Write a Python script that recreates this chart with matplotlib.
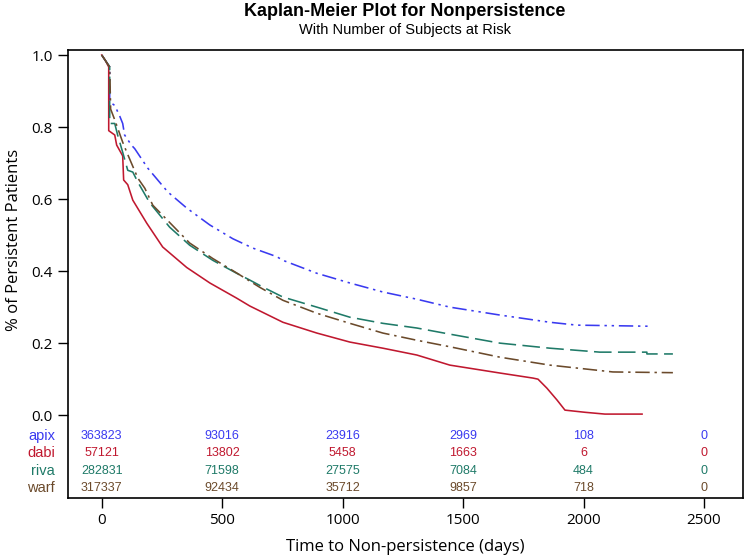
import matplotlib.pyplot as plt
from matplotlib.transforms import blended_transform_factory

# survival curves (days, proportion persistent)
apix_t = [0, 15, 33, 33, 54, 75, 87, 95, 123, 137, 191, 274, 353, 449, 544, 627, 727, 752, 893, 1030, 1167, 1308, 1445, 1653, 1860, 1972, 2267]
apix_s = [1.0, 0.985, 0.967, 0.87, 0.86, 0.83, 0.81, 0.778, 0.75, 0.74, 0.686, 0.62, 0.575, 0.528, 0.49, 0.464, 0.44, 0.43, 0.394, 0.367, 0.342, 0.322, 0.30, 0.278, 0.258, 0.25, 0.247]

dabi_t = [0, 15, 29, 29, 54, 62, 87, 91, 108, 129, 187, 253, 353, 449, 560, 615, 752, 893, 1030, 1167, 1308, 1445, 1653, 1790, 1811, 1848, 1890, 1923, 2006, 2089, 2243]
dabi_s = [1.0, 0.985, 0.967, 0.79, 0.778, 0.75, 0.72, 0.653, 0.64, 0.597, 0.533, 0.467, 0.41, 0.367, 0.325, 0.303, 0.258, 0.228, 0.203, 0.186, 0.167, 0.139, 0.117, 0.103, 0.10, 0.075, 0.042, 0.014, 0.008, 0.003, 0.003]

riva_t = [0, 15, 33, 33, 54, 66, 87, 108, 129, 150, 199, 282, 365, 461, 560, 615, 668, 752, 893, 1030, 1167, 1308, 1445, 1653, 1860, 2068, 2263, 2263, 2371]
riva_s = [1.0, 0.985, 0.967, 0.81, 0.81, 0.778, 0.73, 0.68, 0.675, 0.647, 0.59, 0.522, 0.472, 0.43, 0.394, 0.375, 0.356, 0.328, 0.30, 0.272, 0.255, 0.242, 0.225, 0.20, 0.186, 0.175, 0.175, 0.17, 0.17]

warf_t = [0, 15, 33, 37, 54, 87, 104, 150, 179, 212, 365, 461, 560, 656, 752, 893, 1030, 1167, 1308, 1445, 1653, 1860, 2122, 2371]
warf_s = [1.0, 0.985, 0.967, 0.85, 0.82, 0.758, 0.73, 0.658, 0.63, 0.583, 0.478, 0.435, 0.395, 0.355, 0.319, 0.283, 0.255, 0.228, 0.208, 0.19, 0.161, 0.139, 0.12, 0.118]

# number at risk table
risk_times = [0, 500, 1000, 1500, 2000, 2500]
apix_risk = [363823, 93016, 23916, 2969, 108, 0]
dabi_risk = [57121, 13802, 5458, 1663, 6, 0]
riva_risk = [282831, 71598, 27575, 7084, 484, 0]
warf_risk = [317337, 92434, 35712, 9857, 718, 0]

groups = ['apix', 'dabi', 'riva', 'warf']
colors = ['#3a3af0', '#c0182f', '#1f7a68', '#6b4a2b']
styles = [(0, (9, 3, 1.5, 3, 1.5, 3)), '-', (0, (11, 4)), (0, (9, 3, 1.5, 3))]

fig = plt.figure(figsize=(7.49, 5.57), dpi=100)
ax = fig.add_axes([68 / 749, 1 - 498 / 557, 675 / 749, 448 / 557])

curves = [(apix_t, apix_s), (dabi_t, dabi_s), (riva_t, riva_s), (warf_t, warf_s)]
for (t, s), c, ls in zip(curves, colors, styles):
    ax.plot(t, s, color=c, linestyle=ls, linewidth=1.15)

ax.set_xlim(-140, 2662)
ax.set_ylim(-0.23, 1.014)
ax.set_xticks(risk_times)
ax.set_yticks([0.0, 0.2, 0.4, 0.6, 0.8, 1.0])
ax.set_yticklabels(['0.0', '0.2', '0.4', '0.6', '0.8', '1.0'])
ax.tick_params(labelsize=11, length=7, width=1, pad=4)
for lab in ax.get_xticklabels() + ax.get_yticklabels():
    lab.set_family('Open Sans')
for sp in ax.spines.values():
    sp.set_linewidth(1.2)

# at-risk numbers inside the bottom of the frame
rows = [-0.058, -0.106, -0.156, -0.203]
tr = blended_transform_factory(ax.transAxes, ax.transData)
for g, counts, c, yy in zip(groups, [apix_risk, dabi_risk, riva_risk, warf_risk], colors, rows):
    ax.text(-0.019, yy, g, color=c, fontsize=10.5, ha='right', va='center',
            family='Liberation Sans', transform=tr)
    for t, n in zip(risk_times, counts):
        ax.text(t, yy, str(n), color=c, fontsize=9, ha='center', va='center',
                family='Liberation Sans')

ax.set_xlabel('Time to Non-persistence (days)', fontsize=12, family='Open Sans', labelpad=8)
ax.set_ylabel('% of Persistent Patients', fontsize=12, family='Open Sans')
ax.yaxis.set_label_coords(-0.068, 0.576)

fig.text(405 / 749, 1 - 12 / 557, 'Kaplan-Meier Plot for Nonpersistence', ha='center', va='center',
         fontsize=13, fontweight='bold', family='Liberation Sans')
fig.text(405 / 749, 1 - 30 / 557, 'With Number of Subjects at Risk', ha='center', va='center',
         fontsize=10.5, family='Liberation Sans')

fig.savefig('out.png', dpi=100)
